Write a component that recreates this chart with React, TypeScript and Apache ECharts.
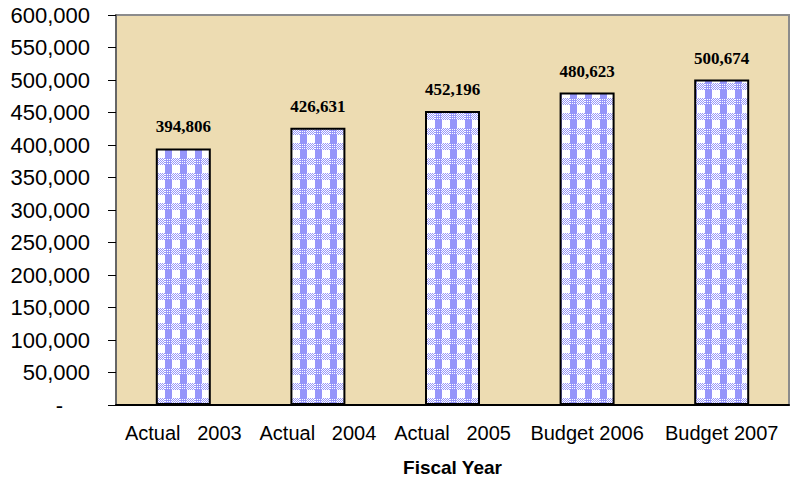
import React, { useEffect, useRef } from "react";
import * as echarts from "echarts";

const categories = ["Actual   2003", "Actual   2004", "Actual   2005", "Budget 2006", "Budget 2007"];
const values = [394806, 426631, 452196, 480623, 500674];
const yMin = 0;
const yMax = 600000;
const yInterval = 50000;

function makeGingham(): HTMLCanvasElement {
  const size = 15;
  const c = document.createElement("canvas");
  c.width = size;
  c.height = size;
  const ctx = c.getContext("2d")!;
  const blue = "#9696fa";
  const white = "#ffffff";
  ctx.fillStyle = white;
  ctx.fillRect(0, 0, size, size);
  ctx.fillStyle = blue;
  ctx.fillRect(0, 0, 7, 8);
  for (let y = 8; y < size; y++) {
    for (let x = 0; x < size; x++) {
      const onBlueCol = x < 7;
      if ((x + y) % 2 === 0 || (onBlueCol && y % 2 === 0)) {
        ctx.fillStyle = blue;
        ctx.fillRect(x, y, 1, 1);
      }
    }
  }
  return c;
}

export default function App() {
  const ref = useRef<HTMLDivElement>(null);
  useEffect(() => {
    if (!ref.current) return;
    const chart = echarts.init(ref.current, null, { renderer: "svg" });
    const tile = makeGingham();
    chart.setOption({
      animation: false,
      backgroundColor: "#ffffff",
      grid: {
        show: true,
        left: 116,
        right: 1,
        top: 15,
        bottom: 77,
        backgroundColor: "#eddcb2",
        borderColor: "#8c8c8c",
        borderWidth: 2,
      },
      xAxis: {
        type: "category",
        data: categories,
        axisLine: { lineStyle: { color: "#000", width: 2 } },
        axisTick: { length: 7, lineStyle: { color: "#333", width: 1 } },
        axisLabel: {
          interval: 0,
          color: "#000",
          fontFamily: "Liberation Sans, Arial, sans-serif",
          fontSize: 20,
          margin: 18,
        },
        name: "Fiscal Year",
        nameLocation: "middle",
        nameGap: 53,
        nameTextStyle: {
          color: "#000",
          fontFamily: "Liberation Sans, Arial, sans-serif",
          fontSize: 19,
          fontWeight: "bold",
        },
      },
      yAxis: {
        type: "value",
        min: yMin,
        max: yMax,
        interval: yInterval,
        splitLine: { show: false },
        axisLine: { show: true, lineStyle: { color: "#666", width: 2 } },
        axisTick: { show: true, length: 8, lineStyle: { color: "#000", width: 1 } },
        axisLabel: {
          color: "#000",
          fontFamily: "Liberation Sans, Arial, sans-serif",
          fontSize: 22,
          margin: 26,
          formatter: (v: number) => (v === 0 ? "{z|-}" : v.toLocaleString("en-US")),
          rich: {
            z: {
              fontFamily: "Liberation Sans, Arial, sans-serif",
              fontSize: 22,
              color: "#000",
              padding: [0, 27, 0, 0],
            },
          },
        },
      },
      series: [
        {
          type: "bar",
          data: values,
          barWidth: 55,
          itemStyle: {
            color: { image: tile, repeat: "repeat", imageWidth: 15, imageHeight: 15 } as any,
            borderColor: "#000",
            borderWidth: 2,
          },
          label: {
            show: true,
            position: "top",
            distance: 13,
            color: "#000",
            fontFamily: "Liberation Serif, Times New Roman, serif",
            fontWeight: "bold",
            fontSize: 17,
            formatter: (p: any) => Number(p.value).toLocaleString("en-US"),
          },
        },
      ],
    });
    return () => chart.dispose();
  }, []);
  return <div ref={ref} style={{ width: 790, height: 482, position: "absolute", left: 0, top: 0 }} />;
}
